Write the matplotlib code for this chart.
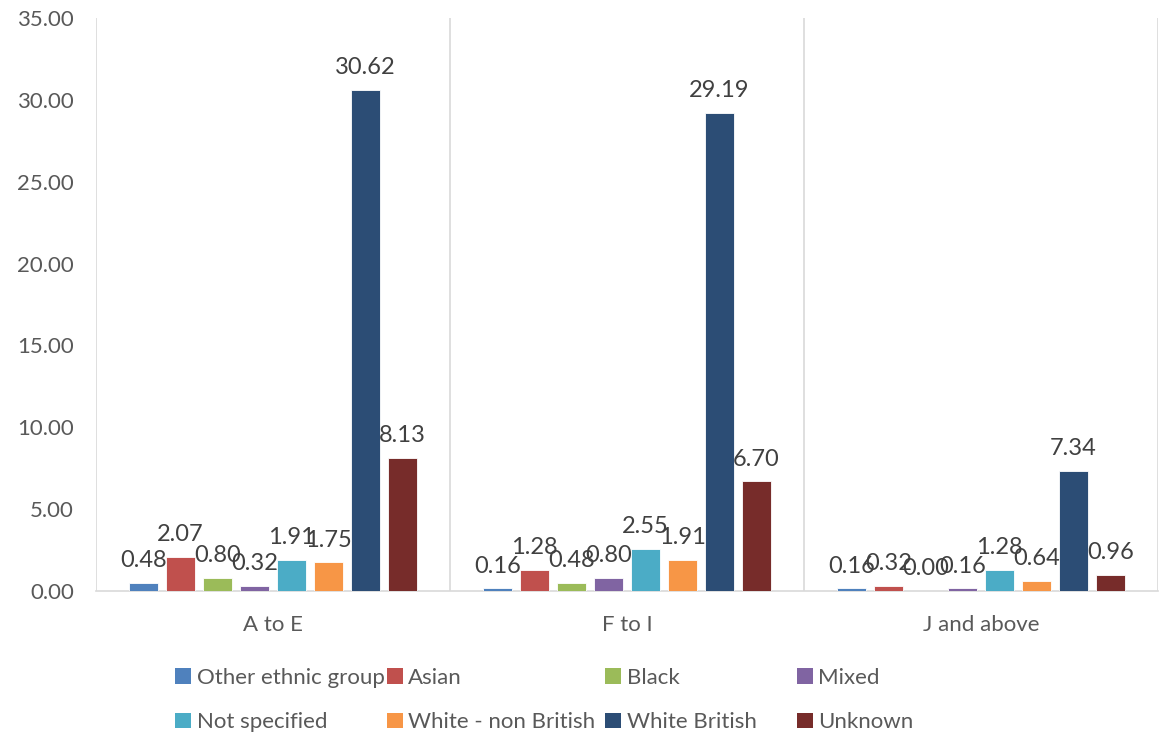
import matplotlib
matplotlib.use("Agg")
import matplotlib.pyplot as plt
from matplotlib.patches import Patch
import numpy as np

# Categories and series
categories = ["A to E", "F to I", "J and above"]
series_names = ["Other ethnic group", "Asian", "Black", "Mixed",
                "Not specified", "White - non British", "White British", "Unknown"]
other_ethnic = [0.48, 0.16, 0.16]
asian = [2.07, 1.28, 0.32]
black = [0.80, 0.48, 0.00]
mixed = [0.32, 0.80, 0.16]
not_specified = [1.91, 2.55, 1.28]
white_non_british = [1.75, 1.91, 0.64]
white_british = [30.62, 29.19, 7.34]
unknown = [8.13, 6.70, 0.96]

series_values = [other_ethnic, asian, black, mixed,
                 not_specified, white_non_british, white_british, unknown]
colors = ["#4F81BD", "#C0504D", "#9BBB59", "#8064A2",
          "#4BACC6", "#F79646", "#2C4D75", "#772C2A"]

plt.rcParams["font.family"] = ["Lato", "DejaVu Sans"]

fig = plt.figure(figsize=(11.62, 7.33), dpi=100)
ax = fig.add_axes([0.0826, 0.1937, 0.9140, 0.7817])

n = len(series_names)
slot = 0.1045
bar_w = 0.082
x = np.arange(len(categories))

for i, (vals, col) in enumerate(zip(series_values, colors)):
    offs = (i - (n - 1) / 2) * slot
    bars = ax.bar(x + offs, vals, width=bar_w, color=col,
                  edgecolor="white", linewidth=0.6, label=series_names[i], zorder=3)
    for b, v in zip(bars, vals):
        ax.annotate(f"{v:.2f}", (b.get_x() + b.get_width() / 2, v),
                    xytext=(0, 8.5), textcoords="offset points",
                    ha="center", va="bottom", fontsize=17, color="#404040", zorder=4)

ax.set_xlim(-0.5, len(categories) - 0.5)
ax.set_ylim(0, 35)
ax.set_yticks(np.arange(0, 35.01, 5))
ax.set_yticklabels([f"{t:.2f}" for t in np.arange(0, 35.01, 5)])
ax.set_xticks(x)
ax.set_xticklabels(categories)
ax.tick_params(axis="both", length=0, labelsize=16, labelcolor="#595959")
ax.tick_params(axis="x", pad=17)
ax.tick_params(axis="y", pad=16)

# category separators
for sep in np.arange(-0.5, len(categories), 1.0):
    ax.axvline(sep, color="#D9D9D9", linewidth=1.2, zorder=1)

for s in ["top", "right", "left"]:
    ax.spines[s].set_visible(False)
ax.spines["bottom"].set_color("#D9D9D9")
ax.spines["bottom"].set_linewidth(1.2)

# Legend laid out in four columns of two entries
col_x = [0.151, 0.333, 0.521, 0.686]
for c in range(4):
    idx = [c, c + 4]
    handles = [Patch(facecolor=colors[k], edgecolor="none") for k in idx]
    labels = [series_names[k] for k in idx]
    leg = fig.legend(handles, labels, loc="upper left", bbox_to_anchor=(col_x[c], 0.089),
                     frameon=False, fontsize=16, handlelength=0.7, handleheight=0.7,
                     handletextpad=0.25, labelspacing=1.1, borderpad=0, borderaxespad=0)
    for t in leg.get_texts():
        t.set_color("#595959")

fig.savefig("out.png", dpi=100)
